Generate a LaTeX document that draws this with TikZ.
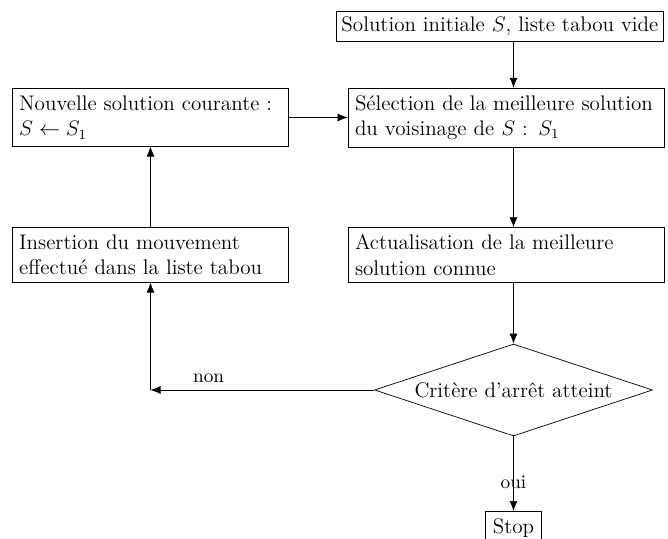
\documentclass[tikz,border=0pt,12pt]{standalone}
\usepackage{tikz}
\usetikzlibrary{shapes.geometric, arrows.meta}

\begin{document}
\begin{tikzpicture}[
        node distance=2.75cm,         % entre les boites d'une meme colonne
        >={Latex[length=2mm, width=1.6mm]},
        box/.style={
            draw,
            rectangle,
            align=left,
            inner sep=4pt
        },
        leftbox/.style={box, text width=5.25cm},
        rightbox/.style={box, text width=6.04cm},
        test/.style={
            draw,
            diamond,
            aspect=3,
            minimum width=5.56cm,
            minimum height=1.84cm,
            inner sep=0pt
        },
        arrow/.style={->},
        label/.style={font=\small}
    ]
    \useasboundingbox (0,0) rectangle (13.36,-10.76);

    % noeuds
    \node[box, anchor=east, inner sep=3pt] (init) at (13.28,-0.53) {Solution initiale $S$, liste tabou vide};
    \node[rightbox] (sel) at (10.12,-2.35) {Sélection de la meilleure solution\\du voisinage de $S$ : $S_1$};
    \node[rightbox] (act) [below of=sel] {Actualisation de la meilleure\\solution connue};
    \node[leftbox] (nouv) at (3.01,-2.35) {Nouvelle solution courante :\\$S \leftarrow S_1$};
    \node[leftbox] (ins) [below of=nouv] {Insertion du mouvement\\effectué dans la liste tabou};
    \node[test] (crit) at (10.27,-7.8) {Critère d'arrêt atteint};
    \node[box, anchor=north] (stop) at (crit.south |- 0,-10.22) {Stop};
    \coordinate (coin) at (ins.south |- crit.west);

    % fleches
    \draw[arrow] (crit.north |- init.south) -- (crit.north |- sel.north);
    \draw[arrow] (crit.north |- sel.south) -- (crit.north |- act.north);
    \draw[arrow] (crit.north |- act.south) -- (crit.north);
    \draw[arrow] (crit.west) -- node[label, above, pos=0.74] {non} (coin);
    \draw[arrow] (coin) -- (ins.south);
    \draw[arrow] (ins.north) -- (nouv.south);
    \draw[arrow] (nouv.east) -- (sel.west);
    \draw[arrow] (crit.south) -- node[label, pos=0.62, inner sep=0pt] {oui} (stop.north);
\end{tikzpicture}
\end{document}
